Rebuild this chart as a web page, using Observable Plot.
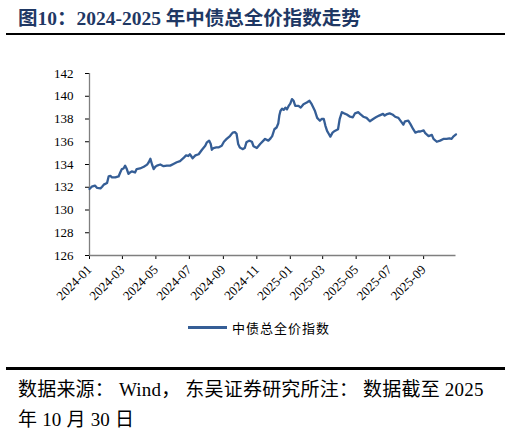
<!DOCTYPE html>
<html>
<head>
<meta charset="utf-8">
<script src="https://cdn.jsdelivr.net/npm/d3@7"></script>
<script src="https://cdn.jsdelivr.net/npm/@observablehq/plot@0.6"></script>
<style>
  body { margin: 0; width: 511px; height: 432px; background: #fff; position: relative; overflow: hidden; }
  .abs { position: absolute; }
  #title { left: 18px; top: 2px; font: bold 19.5px "Liberation Serif", "Noto Sans CJK SC", serif; color: #1F3864; letter-spacing: 0; white-space: nowrap; }
  .rule { left: 6px; width: 499px; background: #000; }
  #chart { left: 0; top: 40px; }
  #chart svg text { font-size: 13px; font-family: "Liberation Serif", serif; }
  #legend-line { left: 188px; top: 326px; width: 39px; height: 2.5px; background: #355E96; }
  #legend-text { left: 232px; top: 318px; font: 13px "Noto Sans CJK SC", sans-serif; letter-spacing: 1px; color: #000; }
  .source { left: 18px; font: 19px "Liberation Serif", "Noto Sans CJK SC", serif; color: #000; letter-spacing: 0.2px; white-space: nowrap; }
</style>
</head>
<body>
<div id="title" class="abs">图10：2024-2025 年中债总全价指数走势</div>
<div class="abs rule" style="top:33px;height:2px"></div>
<div id="chart" class="abs"></div>
<div id="legend-line" class="abs"></div>
<div id="legend-text" class="abs">中债总全价指数</div>
<div class="abs rule" style="top:367px;height:2.5px"></div>
<div class="abs source" style="top:374px">数据来源： Wind， 东吴证券研究所注： 数据截至 2025</div>
<div class="abs source" style="top:404px">年 10 月 30 日</div>
<script>
// 中债总全价指数
const dates2024 = ["2024-01-01","2024-01-05","2024-01-11","2024-01-15","2024-01-21","2024-01-24","2024-01-27",
  "2024-02-02","2024-02-05","2024-02-08","2024-02-11","2024-02-17","2024-02-23","2024-02-26","2024-02-29",
  "2024-03-03","2024-03-06","2024-03-09","2024-03-12","2024-03-15","2024-03-18","2024-03-21","2024-03-24","2024-03-27",
  "2024-04-02","2024-04-09","2024-04-15","2024-04-18","2024-04-21","2024-04-24","2024-04-27","2024-04-30",
  "2024-05-03","2024-05-09","2024-05-15","2024-05-21","2024-05-27",
  "2024-06-02","2024-06-08","2024-06-14","2024-06-20","2024-06-25","2024-06-29",
  "2024-07-02","2024-07-07","2024-07-12","2024-07-18","2024-07-24","2024-07-30",
  "2024-08-02","2024-08-06","2024-08-09","2024-08-11","2024-08-14","2024-08-19","2024-08-23","2024-08-29",
  "2024-09-02","2024-09-07","2024-09-13","2024-09-18","2024-09-22","2024-09-25","2024-09-28",
  "2024-10-01","2024-10-06","2024-10-10","2024-10-13","2024-10-18","2024-10-23","2024-10-26",
  "2024-11-01","2024-11-07","2024-11-13","2024-11-16","2024-11-22","2024-11-26","2024-11-29",
  "2024-12-03","2024-12-07","2024-12-10","2024-12-12","2024-12-14","2024-12-17","2024-12-20","2024-12-23","2024-12-26","2024-12-29"];
const values2024 = [131.85,132.05,132.14,131.94,131.9,132.05,132.23,
  132.38,132.96,133.0,132.87,132.87,132.95,133.3,133.6,
  133.65,133.9,133.6,133.17,133.3,133.4,133.35,133.3,133.6,
  133.65,133.8,133.99,134.2,134.5,134.0,133.6,133.8,
  133.9,134.0,133.85,133.9,133.9,
  134.05,134.2,134.3,134.55,134.8,134.75,
  134.9,134.55,134.8,134.9,135.3,135.65,
  135.95,136.1,135.8,135.3,135.45,135.5,135.5,135.65,
  136.0,136.25,136.5,136.8,136.85,136.7,135.8,
  135.5,135.35,135.45,135.95,136.1,136.0,135.6,
  135.45,135.8,136.1,136.25,136.1,136.3,136.5,
  137.1,137.25,137.6,138.3,138.7,138.9,138.8,139.0,138.85,139.15];

const dates2025 = ["2025-01-01","2025-01-04","2025-01-07","2025-01-10","2025-01-16","2025-01-20","2025-01-25","2025-01-31",
  "2025-02-05","2025-02-09","2025-02-15","2025-02-19","2025-02-24","2025-02-27",
  "2025-03-03","2025-03-06","2025-03-09","2025-03-12","2025-03-15","2025-03-19","2025-03-23","2025-03-29",
  "2025-04-01","2025-04-05","2025-04-09","2025-04-14","2025-04-20","2025-04-25","2025-04-29",
  "2025-05-05","2025-05-08","2025-05-14","2025-05-20","2025-05-26",
  "2025-06-01","2025-06-06","2025-06-12","2025-06-19","2025-06-22","2025-06-25",
  "2025-07-01","2025-07-06","2025-07-11","2025-07-17","2025-07-23","2025-07-26","2025-07-29",
  "2025-08-04","2025-08-08","2025-08-13","2025-08-17","2025-08-22","2025-08-26",
  "2025-09-01","2025-09-04","2025-09-10","2025-09-16","2025-09-19","2025-09-25",
  "2025-10-01","2025-10-07","2025-10-13","2025-10-18","2025-10-22","2025-10-25","2025-10-30"];
const values2025 = [139.35,139.75,139.6,139.15,139.15,139.0,139.3,139.45,
  139.6,139.3,138.7,138.1,137.85,138.0,
  138.0,137.4,136.95,136.7,136.45,136.8,136.95,137.1,
  138.0,138.6,138.5,138.4,138.2,138.15,138.5,
  138.6,138.45,138.2,138.1,137.8,
  138.0,138.15,138.3,138.45,138.3,138.4,
  138.5,138.4,138.2,138.1,137.7,137.5,137.8,
  137.85,137.55,137.1,136.8,136.9,136.9,
  137.0,136.75,136.5,136.6,136.25,136.0,
  136.1,136.25,136.25,136.3,136.25,136.45,136.65];

const xTicks = ["2024-01-01","2024-03-01","2024-05-01","2024-07-01","2024-09-01","2024-11-01",
  "2025-01-01","2025-03-01","2025-05-01","2025-07-01","2025-09-01"];
const yTicks = [126, 128, 130, 132, 134, 136, 138, 140, 142];

const data = dates2024.concat(dates2025).map((d, i) => ({
  date: new Date(d),
  value: values2024.concat(values2025)[i]
}));

const chart = Plot.plot({
  width: 511,
  height: 275,
  marginTop: 33,
  marginBottom: 60,
  marginLeft: 89,
  marginRight: 55.5,
  x: {
    type: "utc",
    domain: [new Date("2024-01-01"), new Date("2025-10-30")],
    ticks: xTicks.map(d => new Date(d)),
    tickFormat: d3.utcFormat("%Y-%m"),
    tickRotate: -45,
    tickSize: 4,
    tickPadding: 8,
    label: null
  },
  y: {domain: [126, 142], ticks: yTicks, tickSize: 4, tickPadding: 12, label: null},
  style: {fontFamily: "'Liberation Serif', serif", fontSize: "13px", background: "transparent", color: "#000"},
  marks: [
    Plot.ruleY([yTicks[0]], {stroke: "#7f7f7f", strokeWidth: 1.3}),
    Plot.ruleX([new Date(xTicks[0])], {stroke: "#7f7f7f", strokeWidth: 1.3}),
    Plot.line(data, {x: "date", y: "value", stroke: "#355E96", strokeWidth: 2.3})
  ]
});

d3.select('#chart').append(() => chart);
</script>
</body>
</html>
